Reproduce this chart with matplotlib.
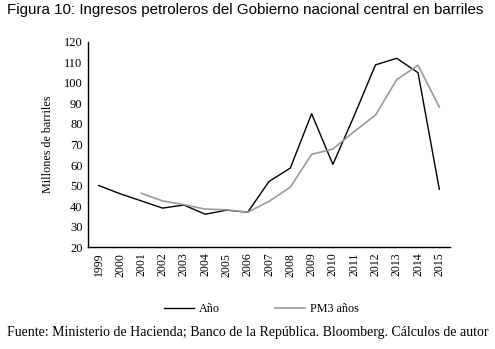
import matplotlib
matplotlib.use('Agg')
import matplotlib.pyplot as plt

years = [str(y) for y in range(1999, 2016)]
anio = [50, 46, 42.5, 39, 40.5, 36, 38, 37, 52, 58.5, 85, 60.3, 84, 108.8, 112, 105, 48.2]
pm3_years = years[2:]
pm3 = [46.2, 42.5, 40.7, 38.5, 38.2, 37, 42.3, 49.2, 65.2, 67.8, 76.3, 84.3, 101.6, 108.6, 88.3]

serif = ['Liberation Serif', 'DejaVu Serif']

fig = plt.figure(figsize=(4.95, 3.49), dpi=100)
ax = fig.add_axes([0.178, 0.292, 0.731, 0.588])

ax.plot(years, anio, color='black', lw=1.0, label='Año')
ax.plot(pm3_years, pm3, color='#9a9a9a', lw=1.2, label='PM3 años')

ax.set_xlim(-0.5, len(years) - 0.5)
ax.set_ylim(20, 120)
ax.set_yticks(range(20, 121, 10))
ax.tick_params(length=0, pad=4)
for lab in ax.get_xticklabels():
    lab.set_rotation(90)
    lab.set_family(serif)
    lab.set_fontsize(8.5)
for lab in ax.get_yticklabels():
    lab.set_family(serif)
    lab.set_fontsize(9)
ax.set_ylabel('Millones de barriles', family=serif, fontsize=8.7, labelpad=7)
for s in ['top', 'right']:
    ax.spines[s].set_visible(False)
ax.spines['left'].set_linewidth(1.0)
ax.spines['bottom'].set_linewidth(1.0)

fig.legend(loc='center', bbox_to_anchor=(0.528, 0.115), ncol=2, frameon=False,
           prop={'family': serif, 'size': 8.7}, columnspacing=4.6, handlelength=2.5,
           handletextpad=0.4)

fig.text(0.014, 0.972, 'Figura 10: Ingresos petroleros del Gobierno nacional central en barriles',
         family=['Liberation Sans', 'DejaVu Sans'], fontsize=10.9, va='center')
fig.text(0.014, 0.046, 'Fuente: Ministerio de Hacienda; Banco de la República. Bloomberg. Cálculos de autor',
         family=serif, fontsize=10, va='center')

fig.savefig('out.png', dpi=100)
